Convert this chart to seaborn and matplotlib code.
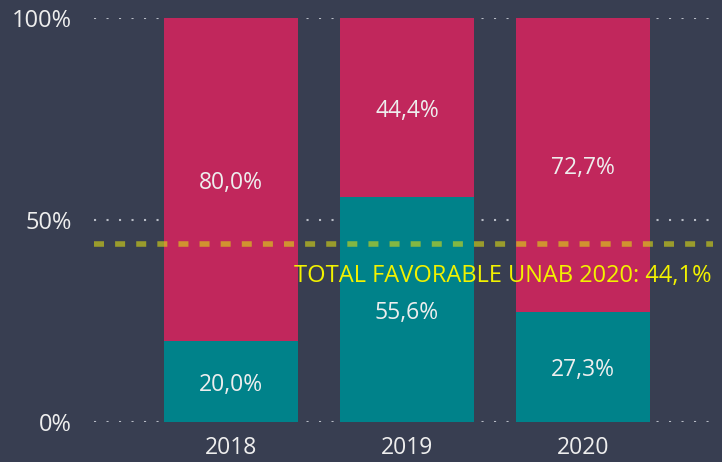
"""Stacked 100% bars: favorable vs unfavorable share per year."""
import matplotlib
matplotlib.use("Agg")
import matplotlib.pyplot as plt
import seaborn as sns
import pandas as pd

years = ["2018", "2019", "2020"]
favorable = [20.0, 55.6, 27.3]
unfavorable = [80.0, 44.4, 72.7]
total_favorable = 44.1
total_label = "TOTAL FAVORABLE UNAB 2020: 44,1%"
y_ticks = [0, 50, 100]
y_tick_labels = ["0%", "50%", "100%"]

BG = "#383e51"
TEAL = "#00828a"
CRIMSON = "#c1275c"
TXT = "#eeeeee"

sns.set_theme(style="white")
plt.rcParams["font.family"] = ["Open Sans", "DejaVu Sans"]

df = pd.DataFrame({"year": years, "fav": favorable, "unfav": unfavorable})
df["total"] = df["fav"] + df["unfav"]

fig = plt.figure(figsize=(7.22, 4.62), dpi=100, facecolor=BG)
ax = fig.add_axes([0.130, 0.0866, 0.8575, 0.8744])
ax.set_facecolor(BG)

# dotted gridlines under the bars
for t in y_ticks:
    ax.axhline(t, color="#b8bcc6", lw=1.5, ls=(0, (1, 5)), zorder=0)

sns.barplot(data=df, x="year", y="total", color=CRIMSON, width=0.76,
            saturation=1, linewidth=0, ax=ax, zorder=2)
sns.barplot(data=df, x="year", y="fav", color=TEAL, width=0.76,
            saturation=1, linewidth=0, ax=ax, zorder=3)

for i, (f, u) in enumerate(zip(favorable, unfavorable)):
    ax.text(i, f / 2, f"{f:.1f}%".replace(".", ","), ha="center",
            va="center_baseline", color=TXT, fontsize=16.5, zorder=5)
    ax.text(i, f + u / 2, f"{u:.1f}%".replace(".", ","), ha="center",
            va="center_baseline", color=TXT, fontsize=16.5, zorder=5)

ax.axhline(total_favorable, color="#dcdc14", alpha=0.6, lw=4,
           ls=(0, (1.8, 2.0)), zorder=4)
ax.text(0.998, total_favorable - 7.3, total_label, transform=ax.get_yaxis_transform(),
        ha="right", va="center_baseline", color="#f2f200", fontsize=17, zorder=5)

ax.set_xlim(-0.78, 2.74)
ax.set_ylim(0, 100)
ax.set_yticks(y_ticks)
ax.set_yticklabels(y_tick_labels)
ax.set_xlabel("")
ax.set_ylabel("")
ax.tick_params(axis="both", length=0, colors=TXT)
ax.tick_params(axis="x", pad=10, labelsize=16.5)
ax.tick_params(axis="y", pad=16, labelsize=17)
sns.despine(ax=ax, left=True, bottom=True)

fig.savefig("out.png", dpi=100, facecolor=BG)
